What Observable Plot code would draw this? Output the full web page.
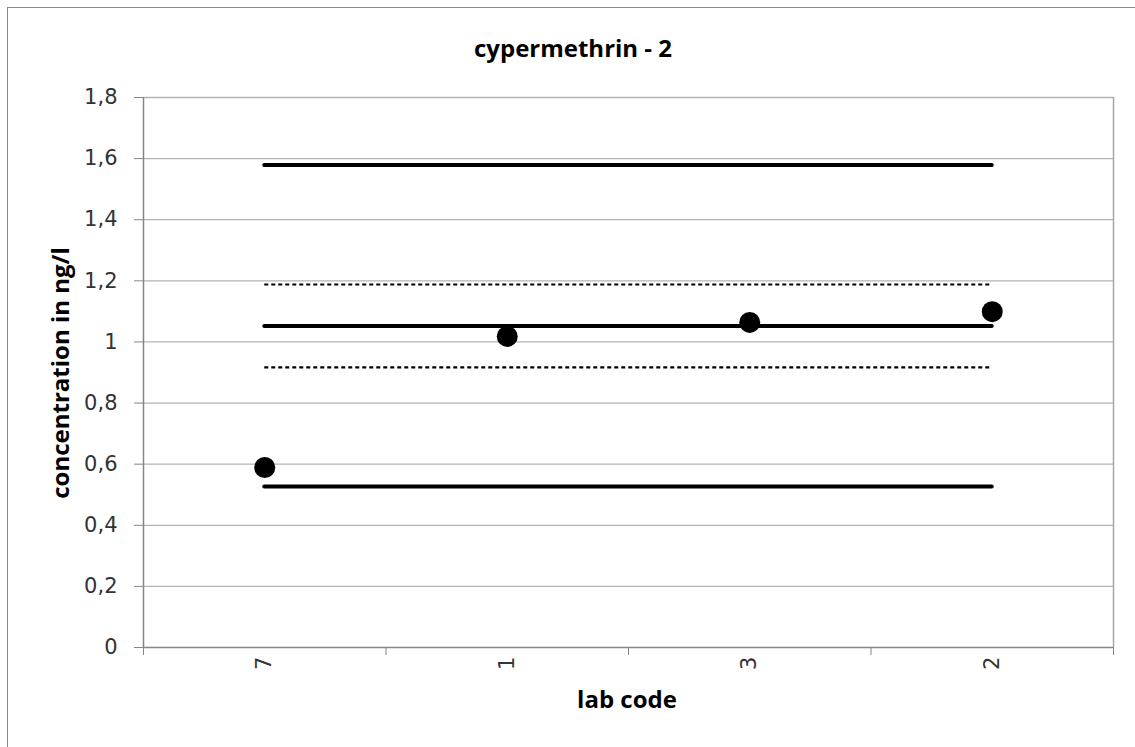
<!DOCTYPE html>
<html><head><meta charset="utf-8">
<script src="https://cdn.jsdelivr.net/npm/d3@7"></script>
<script src="https://cdn.jsdelivr.net/npm/@observablehq/plot@0.6"></script>
<style>
html,body{margin:0;padding:0;background:#fff;overflow:hidden;}
#wrap{position:relative;width:1135px;height:747px;overflow:hidden;font-family:"Open Sans",sans-serif;}
#frame{position:absolute;left:7px;top:7px;width:1300px;height:1000px;border:1px solid #8c8c8c;box-sizing:border-box;}
#chart{position:absolute;left:0;top:0;}
.lab{position:absolute;font-weight:bold;font-size:24px;white-space:nowrap;color:#000;line-height:28px;}
#title{left:573px;top:48px;transform:translate(-50%,-50%);}
#ylab{left:60px;top:373px;transform:translate(-50%,-50%) rotate(-90deg);}
#xlab{left:627px;top:699px;transform:translate(-50%,-50%);}
</style></head>
<body>
<div id="wrap">
  <div id="frame"></div>
  <div id="chart"></div>
  <div id="title" class="lab">cypermethrin - 2</div>
  <div id="ylab" class="lab">concentration in ng/l</div>
  <div id="xlab" class="lab">lab code</div>
</div>
<script>
const labs = ["7", "1", "3", "2"];
const results = [0.589, 1.018, 1.064, 1.099];
const limitsSolid = [1.579, 1.052, 0.527];
const limitsDashed = [1.188, 0.917];
const yTicks = [0, 0.2, 0.4, 0.6, 0.8, 1, 1.2, 1.4, 1.6, 1.8];

const idx = labs.map((d, i) => i);
const pts = labs.map((lab, i) => ({i, lab, v: results[i]}));
const first = 0, last = labs.length - 1;
const fmt = d => String(+d.toFixed(1)).replace(".", ",");

const chart = Plot.plot({
  width: 1135, height: 747,
  marginLeft: 143, marginRight: 22, marginTop: 97, marginBottom: 100,
  x: {type: "linear", domain: [-0.5, labs.length - 0.5]},
  y: {domain: [0, 1.8]},
  style: {fontFamily: '"DejaVu Sans", sans-serif', fontSize: "21px", color: "#333333", background: "transparent"},
  marks: [
    Plot.ruleY(yTicks.slice(1), {stroke: "#b3b3b3", strokeWidth: 1.3}),
    Plot.ruleX([labs.length - 0.5], {stroke: "#a6a6a6", strokeWidth: 1.5}),
    Plot.axisY({ticks: yTicks, tickSize: 9, tickPadding: 17, tickFormat: fmt, label: null, stroke: "#868686"}),
    Plot.axisX({ticks: idx, tickSize: 0, tickPadding: 9, tickRotate: -90, tickFormat: i => labs[i], label: null}),
    Plot.axisX({ticks: d3.range(-0.5, labs.length), tickSize: 8, tickFormat: () => "", label: null, stroke: "#868686"}),
    Plot.ruleX([-0.5], {stroke: "#868686", strokeWidth: 1.5}),
    Plot.ruleY([0], {stroke: "#868686", strokeWidth: 1.5}),
    Plot.ruleY(limitsSolid, {x1: first, x2: last, stroke: "black", strokeWidth: 4, strokeLinecap: "round"}),
    Plot.ruleY(limitsDashed, {x1: first, x2: last, stroke: "black", strokeWidth: 2.2, strokeDasharray: "4,3"}),
    Plot.dot(pts, {x: "i", y: "v", r: 10.5, fill: "black", stroke: null})
  ]
});
document.getElementById("chart").appendChild(chart);
</script>
</body></html>
